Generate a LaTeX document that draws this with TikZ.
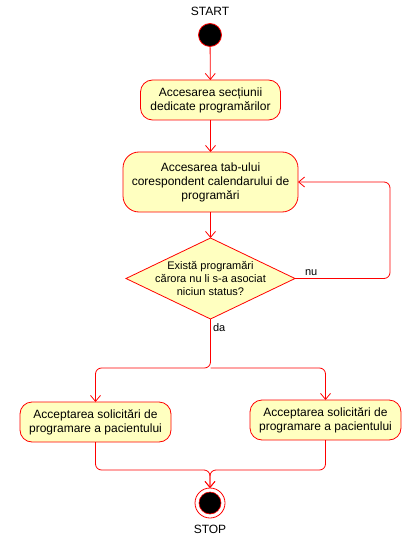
\documentclass[tikz,border=0pt]{standalone}
\usepackage{fontspec}
\setmainfont{Liberation Sans}
\usetikzlibrary{arrows.meta,shapes.geometric,calc}
\definecolor{boxfill}{HTML}{FFFFC0}
\definecolor{linered}{HTML}{FF0000}
\begin{document}
\begin{tikzpicture}[x=1pt,y=-1pt,
  every node/.style={inner sep=0pt,outer sep=0pt},
  act/.style={draw=linered,fill=boxfill,rounded corners=12pt,line width=0.8pt,align=center,font=\fontsize{12}{14}\selectfont},
  dec/.style={draw=linered,fill=boxfill,diamond,line width=0.8pt,align=center,font=\fontsize{11}{13}\selectfont},
  flow/.style={draw=linered,line width=0.8pt,rounded corners=6pt,-{Straight Barb[length=6pt,width=10pt]}},
  lbl/.style={font=\fontsize{11}{13}\selectfont},
  ttl/.style={font=\fontsize{12}{14}\selectfont}
]
\useasboundingbox (0,0) rectangle (402,540);
\node[ttl] (starttxt) at (210,11) {START};
\node[circle,draw=linered,fill=black,minimum size=23pt,line width=0.8pt] (start) at (210,35) {};
\node[act,minimum width=140pt,minimum height=40pt] (b1) at (210.5,100) {Accesarea secțiunii\\dedicate programărilor};
\node[act,minimum width=175pt,minimum height=60pt,rounded corners=16pt] (b2) at (210.5,182) {Accesarea tab-ului\\corespondent calendarului de\\programări};
\node[draw=linered,fill=boxfill,line width=0.8pt,shape=diamond,minimum width=169pt,minimum height=81pt] (d) at (210.5,278.5) {};
\node[align=center,font=\fontsize{11}{13}\selectfont] (dtxt) at (210.5,278.5) {Există programări\\cărora nu li s-a asociat\\niciun status?};
\node[act,minimum width=151pt,minimum height=40pt] (b3) at (95.5,422) {Acceptarea solicitări de\\programare a pacientului};
\node[act,minimum width=151pt,minimum height=40pt] (b4) at (325.5,420) {Acceptarea solicitări de\\programare a pacientului};
\node[circle,draw=linered,fill=white,minimum size=30pt,line width=0.8pt] (stop) at (210,503) {};
\node[circle,draw=linered,fill=black,minimum size=22pt,line width=0.6pt] (stopin) at (210,503) {};
\node[ttl] (stoptxt) at (210,529) {STOP};
\coordinate (split) at (210.5,368);
\coordinate (merge) at (210,470);
\coordinate (loopa) at (390,278.5);
\coordinate (loopb) at (390,182);
\draw[flow] (start) -- (b1);
\draw[flow] (b1) -- (b2);
\draw[flow] (b2) -- (d.north);
\draw[flow] (d.east) -- (loopa) -- (loopb) -- (b2.east);
\node[lbl,anchor=south west] (nu) at (305,276) {nu};
\node[lbl,anchor=north west] (da) at (213,324) {da};
\draw[flow] (d.south) -- (split) -| (b3.north);
\draw[flow] (split) -| (b4.north);
\draw[flow] (b3.south) |- (merge) -- (stop.north);
\draw[flow] (b4.south) |- (merge) -- (stop.north);
\end{tikzpicture}
\end{document}
